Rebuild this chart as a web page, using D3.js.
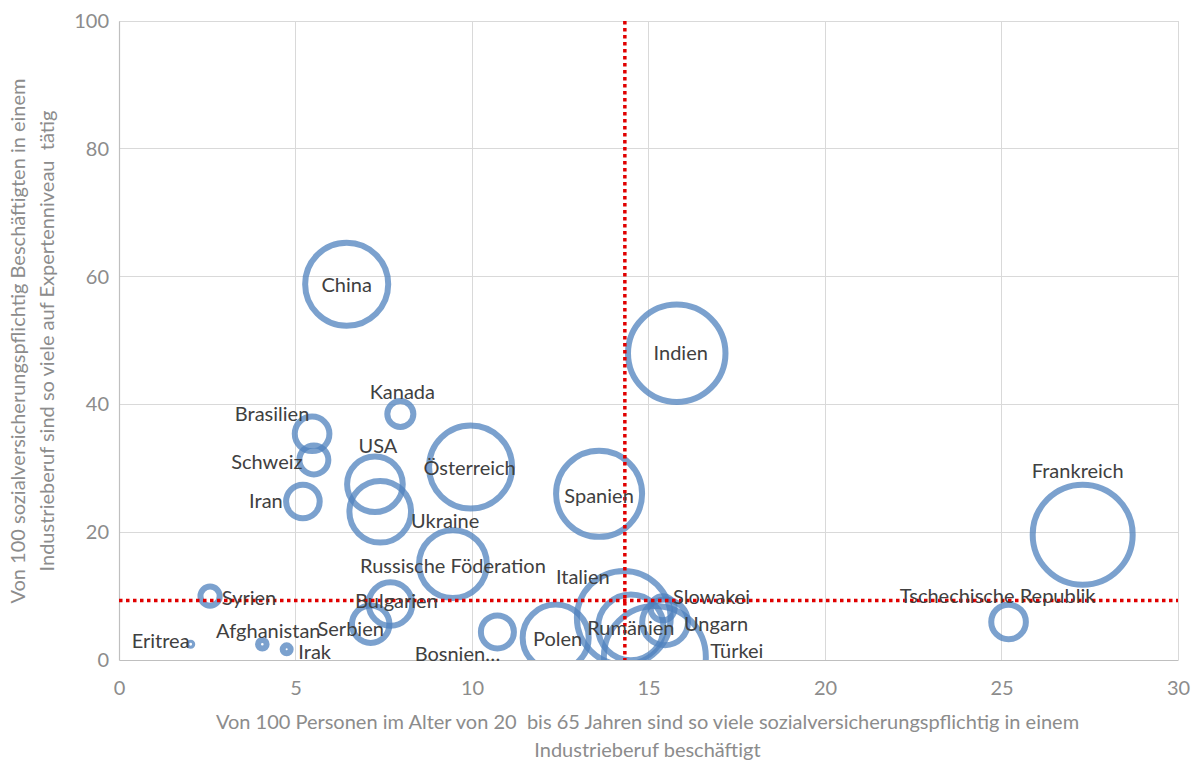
<!DOCTYPE html>
<html lang="de">
<head>
<meta charset="utf-8">
<script src="https://cdn.jsdelivr.net/npm/d3@7"></script>
<style>
  html, body { margin: 0; padding: 0; background: #ffffff; }
  svg { display: block; }
  .title { white-space: pre; }
</style>
</head>
<body>
<svg id="chart" width="1198" height="760"></svg>
<script>
// Länder und Werte der Blasen
const countries = ["China", "Indien", "Frankreich", "Tschechische Republik", "Österreich", "Spanien",
  "Russische Föderation", "Kanada", "Brasilien", "Schweiz", "Iran", "USA", "Ukraine", "Bulgarien",
  "Serbien", "Syrien", "Eritrea", "Afghanistan", "Irak", "Bosnien…", "Polen", "Italien",
  "Rumänien", "Slowakei", "Ungarn", "Türkei"];
// Anteil in Industrieberufen beschäftigt (x)
const industryShare = [6.45, 15.8, 27.3, 25.2, 9.96, 13.6, 9.46, 7.97, 5.47, 5.52, 5.21, 7.25, 7.4, 7.69,
  7.13, 2.58, 2.03, 4.06, 4.75, 10.72, 12.37, 14.3, 14.5, 15.4, 15.47, 15.18];
// Anteil auf Expertenniveau (y)
const expertShare = [58.8, 48.0, 19.6, 5.95, 30.2, 26.0, 15.0, 38.5, 35.4, 31.3, 24.8, 27.5, 23.2, 8.76,
  5.6, 10.0, 2.46, 2.46, 1.67, 4.4, 3.5, 6.6, 5.1, 8.1, 5.9, 0.47];
// Blasengröße
const bubbleSize = [69, 95, 100, 12, 69, 74, 46, 6.8, 12, 8.4, 11.3, 31, 38, 19,
  14, 3.7, 0.1, 0.74, 0.64, 10.9, 43.6, 88, 43, 5.8, 21, 104];
// Referenzlinien
const refX = [14.33];
const refY = [9.3];
// Achsenbeschriftung
const xTicks = [0, 5, 10, 15, 20, 25, 30];
const yTicks = [0, 20, 40, 60, 80, 100];
const xTitle = ["Von 100 Personen im Alter von 20  bis 65 Jahren sind so viele sozialversicherungspflichtig in einem",
  "Industrieberuf beschäftigt"];
const yTitle = ["Von 100 sozialversicherungspflichtig Beschäftigten in einem",
  "Industrieberuf sind so viele auf Expertenniveau  tätig"];

// Verschiebung der Datenbeschriftungen gegenüber der Blasenmitte (px)
const labelShift = [[0, 0], [4, -1], [-5, -65], [-11, -27], [-1, 0], [0, 1], [0, 1], [2, -23],
  [-40, -21], [-47, 1], [-37, -2], [3, -39], [65, 8], [6, -4], [-20, 4], [39, 1], [-30, -4],
  [6, -14], [28, 2], [-40, 21], [2, 0], [-41, -42], [0, 0], [49, -12], [51, 1], [82, -7]];

const svg = d3.select("#chart");
const margin = { left: 119, right: 20, top: 21, bottom: 100 };
const W = 1198, H = 760;
const plotW = W - margin.left - margin.right;
const plotH = H - margin.top - margin.bottom;

const x = d3.scaleLinear().domain([0, 30]).range([0, plotW]);
const y = d3.scaleLinear().domain([0, 100]).range([plotH, 0]);
const r = d3.scaleSqrt().domain([0, 100]).range([0, 50]);

const font = "Lato, 'Open Sans', sans-serif";
const g = svg.append("g").attr("transform", `translate(${margin.left},${margin.top})`);

// Gitternetz
g.append("g").selectAll("line").data(xTicks.slice(1)).join("line")
  .attr("x1", d => x(d)).attr("x2", d => x(d)).attr("y1", 0).attr("y2", plotH)
  .attr("stroke", "#d9d9d9").attr("stroke-width", 1).attr("shape-rendering", "crispEdges");
g.append("g").selectAll("line").data(yTicks.slice(1)).join("line")
  .attr("x1", 0).attr("x2", plotW).attr("y1", d => y(d)).attr("y2", d => y(d))
  .attr("stroke", "#d9d9d9").attr("stroke-width", 1).attr("shape-rendering", "crispEdges");

// Achsen
const xAxis = g.append("g").attr("transform", `translate(0,${plotH})`)
  .call(d3.axisBottom(x).tickValues(xTicks).tickSize(0).tickPadding(21));
const yAxis = g.append("g")
  .call(d3.axisLeft(y).tickValues(yTicks).tickSize(0).tickPadding(10));
[xAxis, yAxis].forEach(a => {
  a.select(".domain").attr("stroke", "#bfbfbf").attr("stroke-width", 1.2);
  a.selectAll("text").attr("font-family", font).attr("font-size", 20).attr("fill", "#8c8c8c");
});

// Blasen
const clipId = "plotClip";
svg.append("defs").append("clipPath").attr("id", clipId)
  .append("rect").attr("width", plotW).attr("height", plotH);

const data = countries.map((c, i) => ({
  name: c, x: industryShare[i], y: expertShare[i], s: bubbleSize[i], shift: labelShift[i]
}));

g.append("g").attr("clip-path", `url(#${clipId})`)
  .selectAll("circle").data(data).join("circle")
  .attr("cx", d => x(d.x)).attr("cy", d => y(d.y)).attr("r", d => r(d.s))
  .attr("fill", "none").attr("stroke", "#4f81bd").attr("stroke-opacity", 0.75)
  .attr("stroke-width", 6);

// Referenzlinien
g.append("g").selectAll("line").data(refY).join("line")
  .attr("x1", 0).attr("x2", plotW).attr("y1", d => y(d)).attr("y2", d => y(d))
  .attr("stroke", "#e00000").attr("stroke-width", 3.5).attr("stroke-dasharray", "3.5,3.5");
g.append("g").selectAll("line").data(refX).join("line")
  .attr("x1", d => x(d)).attr("x2", d => x(d)).attr("y1", 0).attr("y2", plotH)
  .attr("stroke", "#e00000").attr("stroke-width", 3.5).attr("stroke-dasharray", "3.5,3.5");

// Datenbeschriftungen
g.append("g").selectAll("text").data(data).join("text")
  .attr("x", d => x(d.x) + d.shift[0]).attr("y", d => y(d.y) + d.shift[1])
  .attr("text-anchor", "middle").attr("dominant-baseline", "central")
  .attr("font-family", font).attr("font-size", 20).attr("fill", "#404040")
  .text(d => d.name);

// Achsentitel
svg.append("g").selectAll("text").data(xTitle).join("text")
  .attr("class", "title")
  .attr("x", margin.left + plotW / 2 - 1).attr("y", (d, i) => 729 + i * 28)
  .attr("text-anchor", "middle").attr("font-family", font).attr("font-size", 20)
  .attr("fill", "#8c8c8c").text(d => d);
svg.append("g").selectAll("text").data(yTitle).join("text")
  .attr("class", "title")
  .attr("transform", (d, i) => `translate(${25 + i * 29},341) rotate(-90)`)
  .attr("text-anchor", "middle").attr("font-family", font).attr("font-size", 20)
  .attr("fill", "#8c8c8c").text(d => d);
</script>
</body>
</html>
